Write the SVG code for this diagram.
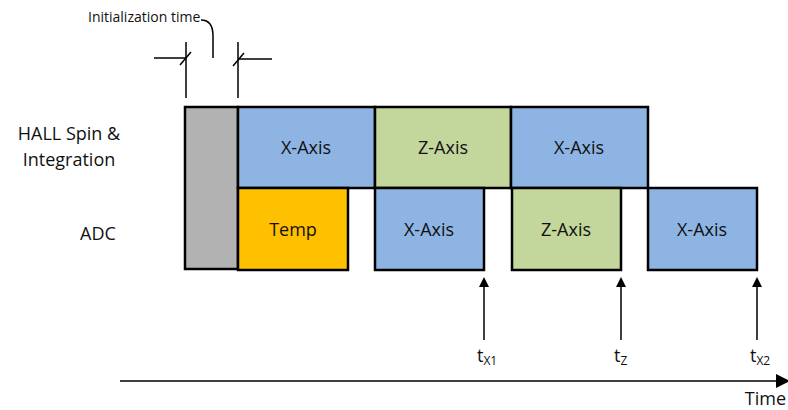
<svg xmlns="http://www.w3.org/2000/svg" width="788" height="410" viewBox="0 0 788 410">
<style>
text{font-family:"Open Sans","Liberation Sans",sans-serif;fill:#111}
.lbl{font-size:18px;text-anchor:middle}
.box{stroke:#000;stroke-width:2.5}
.blue{fill:#8EB4E3}.green{fill:#C3D69B}.orange{fill:#FFC000}.gray{fill:#B2B2B2}
.ln{stroke:#000;stroke-width:1.5;fill:none}
</style>
<defs>
<marker id="ah" markerWidth="10" markerHeight="10" refX="8" refY="5" orient="auto" markerUnits="userSpaceOnUse"><path d="M0,0 L10,5 L0,10 Z" fill="#000"/></marker>
<marker id="ah2" markerWidth="14" markerHeight="14" refX="12" refY="7" orient="auto" markerUnits="userSpaceOnUse"><path d="M0,0 L14,7 L0,14 Z" fill="#000"/></marker>
</defs>
<rect width="788" height="410" fill="#fff"/>
<g id="rowlabels">
<text x="69" y="140" font-size="18" text-anchor="middle">HALL Spin &amp;</text>
<text x="69" y="166" font-size="18" text-anchor="middle">Integration</text>
<text x="98" y="240" font-size="18" text-anchor="middle">ADC</text>
</g>
<g id="init">
<rect class="box gray" x="185" y="107" width="53" height="162"/>
</g>
<g id="hall-x1"><rect class="box blue" x="238" y="107" width="137" height="81"/><text class="lbl" x="306" y="154">X-Axis</text></g>
<g id="hall-z"><rect class="box green" x="375" y="107" width="136" height="81"/><text class="lbl" x="443" y="154">Z-Axis</text></g>
<g id="hall-x2"><rect class="box blue" x="511" y="107" width="137" height="81"/><text class="lbl" x="579" y="154">X-Axis</text></g>
<g id="adc-temp"><rect class="box orange" x="238" y="188" width="110" height="82"/><text class="lbl" x="293" y="236">Temp</text></g>
<g id="adc-x1"><rect class="box blue" x="375" y="188" width="109" height="82"/><text class="lbl" x="429" y="236">X-Axis</text></g>
<g id="adc-z"><rect class="box green" x="512" y="188" width="109" height="82"/><text class="lbl" x="566" y="236">Z-Axis</text></g>
<g id="adc-x2"><rect class="box blue" x="648" y="188" width="109" height="82"/><text class="lbl" x="702" y="236">X-Axis</text></g>
<g id="connectors">
<line class="ln" x1="186" y1="42" x2="186" y2="98"/>
<line class="ln" x1="154" y1="58" x2="186" y2="58"/>
<line class="ln" x1="180" y1="65" x2="191" y2="52"/>
<line class="ln" x1="238" y1="42" x2="238" y2="98"/>
<line class="ln" x1="238" y1="59" x2="272" y2="59"/>
<line class="ln" x1="233" y1="66" x2="244" y2="53"/>
<path class="ln" d="M201,20 C210,20 213,26 213,36 L213,58"/>
<line class="ln" x1="484" y1="340" x2="484" y2="279" marker-end="url(#ah)"/>
<line class="ln" x1="621" y1="340" x2="621" y2="279" marker-end="url(#ah)"/>
<line class="ln" x1="757" y1="340" x2="757" y2="279" marker-end="url(#ah)"/>
<line class="ln" x1="120" y1="381" x2="788" y2="381" marker-end="url(#ah2)"/>
</g>
<g id="texts">
<text x="88" y="22" font-size="14">Initialization time</text>
<text x="477" y="362" font-size="18">t<tspan font-size="12" dy="3">X1</tspan></text>
<text x="614" y="362" font-size="18">t<tspan font-size="12" dy="3">Z</tspan></text>
<text x="750" y="362" font-size="18">t<tspan font-size="12" dy="3">X2</tspan></text>
<text x="786" y="405" font-size="18" text-anchor="end">Time</text>
</g>
</svg>
